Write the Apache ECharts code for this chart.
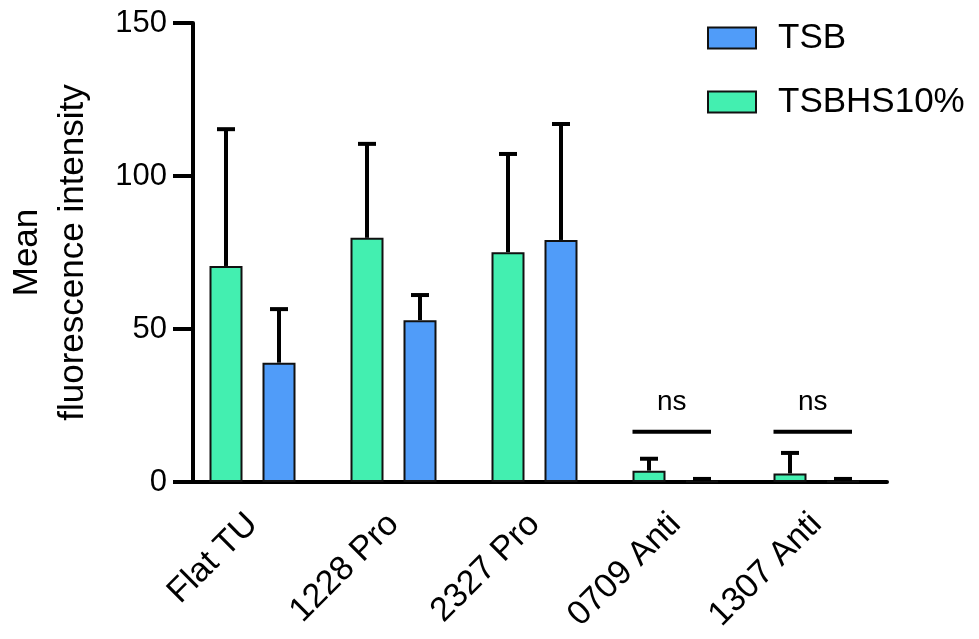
<!DOCTYPE html>
<html>
<head>
<meta charset="utf-8">
<script src="https://cdn.jsdelivr.net/npm/echarts@6/dist/echarts.min.js"></script>
<style>
  html, body { margin: 0; padding: 0; background: #fff; }
  #chart { width: 979px; height: 639px; }
</style>
</head>
<body>
<div id="chart"></div>
<script>
// Strains and growth conditions
const categories = ['Flat TU', '1228 Pro', '2327 Pro', '0709 Anti', '1307 Anti'];

// TSB + 10% human serum
const tsbhsMean = [70.6, 79.8, 75.1, 3.7, 2.8];
const tsbhsSD   = [44.7, 30.7, 32.1, 3.9, 6.7];

// TSB alone
const tsbMean = [39.0, 52.9, 79.1, 0.3, 0.3];
const tsbSD   = [17.5, 8.2, 37.9, 0.7, 0.7];

// Comparisons marked not significant
const nsGroups = ['0709 Anti', '1307 Anti'];
const nsLabel = 'ns';

// Value axis
const yMin = 0, yMax = 150, yStep = 50;

const FONT = 'Liberation Sans, Arial, Helvetica, sans-serif';
const GREEN = '#43EFB0';
const BLUE = '#509CF9';
const BAR_W = 33;
const BAR_GAP = 20;
const HALF = (BAR_W + BAR_GAP) / 2;
const CAP = 9;
const NS_LINE_AT = 16.4;
const NS_TEXT_AT = 26;

function errorRenderer(offset) {
  return function (params, api) {
    const i = api.value(0);
    const base = api.coord([i, api.value(1)]);
    const top = api.coord([i, api.value(2)]);
    const x = base[0] + offset;
    const st = { stroke: '#000', lineWidth: 4 };
    return {
      type: 'group',
      children: [
        { type: 'line', shape: { x1: x, y1: base[1], x2: x, y2: top[1] }, style: st },
        { type: 'line', shape: { x1: x - CAP, y1: top[1], x2: x + CAP, y2: top[1] }, style: st }
      ]
    };
  };
}

function nsRenderer(params, api) {
  const i = api.value(0);
  const c = api.coord([i, NS_LINE_AT]);
  const left = c[0] - HALF - BAR_W / 2;
  const right = c[0] + HALF + CAP;
  const mid = (left + right) / 2;
  const ty = api.coord([i, NS_TEXT_AT])[1];
  return {
    type: 'group',
    children: [
      { type: 'line', shape: { x1: left, y1: c[1], x2: right, y2: c[1] },
        style: { stroke: '#000', lineWidth: 4 } },
      { type: 'text', x: mid, y: ty,
        style: { text: nsLabel, fill: '#000', font: '28px ' + FONT,
                 textAlign: 'center', textVerticalAlign: 'middle' } }
    ]
  };
}

const chart = echarts.init(document.getElementById('chart'));
chart.setOption({
  animation: false,
  backgroundColor: '#fff',
  textStyle: { fontFamily: FONT, color: '#000' },
  grid: { left: 182, right: 92, top: 23, bottom: 157, containLabel: false, outerBoundsMode: 'none' },
  legend: {
    orient: 'vertical',
    left: 702,
    top: 14,
    data: ['TSB', 'TSBHS10%'],
    icon: 'rect',
    itemWidth: 48,
    itemHeight: 21,
    itemGap: 26,
    textStyle: { fontFamily: FONT, fontSize: 35, lineHeight: 38, color: '#000', padding: [0, 0, 0, 17] }
  },
  xAxis: {
    type: 'category',
    data: categories,
    axisLine: { lineStyle: { color: '#000', width: 4 } },
    axisTick: { alignWithLabel: true, length: 19, lineStyle: { color: '#000', width: 4 } },
    axisLabel: { rotate: 45, margin: 37, fontSize: 34, fontFamily: FONT, color: '#000' }
  },
  yAxis: {
    type: 'value',
    min: yMin, max: yMax, interval: yStep,
    offset: -11,
    splitLine: { show: false },
    axisLine: { show: true, lineStyle: { color: '#000', width: 4 } },
    axisTick: { show: true, length: 20, lineStyle: { color: '#000', width: 4 } },
    axisLabel: { margin: 26, fontSize: 31, fontFamily: FONT, color: '#000' },
    name: 'Mean\nfluorescence intensity',
    nameLocation: 'middle',
    nameGap: 97,
    nameTextStyle: { fontSize: 35, lineHeight: 46, fontFamily: FONT, color: '#000' }
  },
  series: [
    {
      name: 'TSBHS10%', type: 'bar', data: tsbhsMean,
      barWidth: BAR_W, barGap: (BAR_GAP / BAR_W * 100) + '%',
      itemStyle: { color: GREEN, borderColor: '#111', borderWidth: 2 }
    },
    {
      name: 'TSB', type: 'bar', data: tsbMean,
      barWidth: BAR_W, barGap: (BAR_GAP / BAR_W * 100) + '%',
      itemStyle: { color: BLUE, borderColor: '#111', borderWidth: 2 }
    },
    {
      name: 'TSBHS10% SD', type: 'custom', z: 5,
      renderItem: errorRenderer(-HALF),
      encode: { x: 0, y: [1, 2] },
      data: tsbhsMean.map((m, i) => [i, m, m + tsbhsSD[i]])
    },
    {
      name: 'TSB SD', type: 'custom', z: 5,
      renderItem: errorRenderer(HALF),
      encode: { x: 0, y: [1, 2] },
      data: tsbMean.map((m, i) => [i, m, m + tsbSD[i]])
    },
    {
      name: 'ns', type: 'custom', z: 5, clip: false,
      renderItem: nsRenderer,
      encode: { x: 0, y: 1 },
      data: nsGroups.map(g => [categories.indexOf(g), NS_LINE_AT])
    }
  ]
});
</script>
</body>
</html>
